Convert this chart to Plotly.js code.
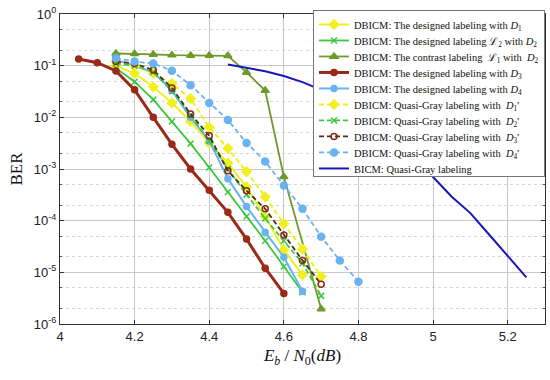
<!DOCTYPE html>
<html>
<head>
<meta charset="utf-8">
<script src="https://cdn.plot.ly/plotly-3.0.1.min.js"></script>
<style>html,body{margin:0;padding:0;background:#fff;}#chart{width:550px;height:380px;}</style>
</head>
<body>
<div id="chart"></div>
<script>
// Eb/N0 (dB) grids
var snrD1 = [4.15,4.2,4.25,4.3,4.35,4.4,4.45,4.5,4.55,4.6,4.65];
var berD1 = [0.099,0.071,0.039,0.019,0.0083,0.0032,0.0013,0.00045,0.00012,0.000027,0.0000089];

var snrD2 = [4.15,4.2,4.25,4.3,4.35,4.4,4.45,4.5,4.55,4.6,4.65];
var berD2 = [0.089,0.049,0.022,0.0083,0.0031,0.00107,0.00036,0.00012,0.000041,0.000013,0.0000041];

var snrC = [4.15,4.2,4.25,4.3,4.35,4.4,4.45,4.5,4.55,4.6,4.7];
var berC = [0.172,0.170,0.165,0.160,0.157,0.157,0.155,0.074,0.033,0.00071,0.00000195];

var snrD3 = [4.05,4.1,4.15,4.2,4.25,4.3,4.35,4.4,4.45,4.5,4.55,4.6];
var berD3 = [0.135,0.114,0.079,0.034,0.01,0.003,0.001,0.00039,0.000145,0.000044,0.000012,0.0000039];

var snrD4 = [4.15,4.2,4.25,4.3,4.35,4.4,4.45,4.5,4.55,4.6,4.65];
var berD4 = [0.13,0.1,0.075,0.033,0.01,0.0035,0.00065,0.000187,0.00006,0.0000195,0.0000043];

var snrQ1 = [4.15,4.2,4.25,4.3,4.35,4.4,4.45,4.5,4.55,4.6,4.65,4.7];
var berQ1 = [0.12,0.1,0.071,0.045,0.023,0.0064,0.0025,0.00089,0.00029,0.000087,0.000028,0.0000083];

var snrQ2 = [4.15,4.2,4.25,4.3,4.35,4.4,4.45,4.5,4.55,4.6,4.65,4.7];
var berQ2 = [0.11,0.1,0.075,0.032,0.011,0.0035,0.001,0.00032,0.00011,0.000041,0.000015,0.0000035];

var snrQ3 = [4.15,4.2,4.25,4.3,4.35,4.4,4.45,4.5,4.55,4.6,4.65,4.7];
var berQ3 = [0.12,0.11,0.082,0.037,0.0116,0.0044,0.00092,0.00038,0.00017,0.000053,0.000017,0.0000059];

var snrQ4 = [4.15,4.2,4.25,4.3,4.35,4.4,4.45,4.5,4.55,4.6,4.65,4.7,4.75,4.8];
var berQ4 = [0.14,0.12,0.11,0.08,0.042,0.019,0.0089,0.0032,0.0014,0.00048,0.00017,0.000049,0.000017,0.0000066];

var snrB = [4.45,4.5,4.55,4.6,4.65,4.7,4.75,4.8,4.85,4.9,4.95,5.0,5.05,5.1,5.15,5.2,5.25];
var berB = [0.105,0.092,0.078,0.063,0.048,0.034,0.022,0.012,0.0065,0.0033,0.0015,0.0007,0.00029,0.00014,0.000054,0.000021,0.000008];

var names = [
  'DBICM: The designed labeling with <i>D</i><sub>1</sub>',
  'DBICM: The designed labeling ℒ<sub>2</sub> with <i>D</i><sub>2</sub>',
  'DBICM: The contrast labeling  ℒ<sub>1</sub> with  <i>D</i><sub>2</sub>',
  'DBICM: The designed labeling with <i>D</i><sub>3</sub>',
  'DBICM: The designed labeling with <i>D</i><sub>4</sub>',
  'DBICM: Quasi-Gray labeling with  <i>D</i><sub>1</sub>\'',
  'DBICM: Quasi-Gray labeling with  <i>D</i><sub>2</sub>\'',
  'DBICM: Quasi-Gray labeling with  <i>D</i><sub>3</sub>\'',
  'DBICM: Quasi-Gray labeling with  <i>D</i><sub>4</sub>\'',
  'BICM: Quasi-Gray labeling'
];

var xTickVals = [4,4.2,4.4,4.6,4.8,5,5.2];
var xTickText = ['4','4.2','4.4','4.6','4.8','5','5.2'];
var yTickVals = [1,0.1,0.01,0.001,0.0001,0.00001,0.000001];
var yTickText = ['10<sup>0</sup>','10<sup>-1</sup>','10<sup>-2</sup>','10<sup>-3</sup>','10<sup>-4</sup>','10<sup>-5</sup>','10<sup>-6</sup>'];

function tr(x,y,name,color,width,dash,sym,msize,mcolor,mline){
  var t = {x:x,y:y,name:name,type:'scatter',mode: sym? 'lines+markers':'lines',
    line:{color:color,width:width,dash:dash}};
  if(sym){ t.marker = {symbol:sym,size:msize,color:mcolor,line:{color:mline||mcolor,width:1.5}}; }
  return t;
}

var yellow='#f0f020', green='#3cc83c', olive='#6f9a2a', red='#9a2a18', cyan='#6ab2f0', blue='#1818b8';

var data = [
  tr(snrD1,berD1,names[0],yellow,2,'solid','diamond',7,yellow),
  tr(snrD2,berD2,names[1],green,1.8,'solid','x-thin',6,green,green),
  tr(snrC,berC,names[2],olive,1.8,'solid','triangle-up',7,olive),
  tr(snrD3,berD3,names[3],red,3,'solid','circle',6,red),
  tr(snrD4,berD4,names[4],cyan,2,'solid','circle',6,cyan),
  tr(snrQ1,berQ1,names[5],yellow,2,'5px,3px','diamond',7,yellow),
  tr(snrQ2,berQ2,names[6],green,1.8,'5px,3px','x-thin',6,green,green),
  tr(snrQ3,berQ3,names[7],'#4a3020',1.8,'5px,3px','circle-open',6,'#8a2a10','#8a2a10'),
  tr(snrQ4,berQ4,names[8],cyan,1.8,'5px,3px','circle',7,cyan),
  tr(snrB,berB,names[9],blue,2,'solid',null)
];

var layout = {
  width:550, height:380,
  margin:{l:60,r:5,t:14,b:56},
  paper_bgcolor:'#fff', plot_bgcolor:'#fff',
  font:{family:'Liberation Sans, Arial, sans-serif', size:13, color:'#222'},
  showlegend:true,
  legend:{x:1,xanchor:'right',y:1.013,yanchor:'top',bgcolor:'#fff',bordercolor:'#777',borderwidth:1,
    itemwidth:30,
    font:{family:'Liberation Serif, Times New Roman, serif',size:10.5,color:'#111'},tracegroupgap:0},
  xaxis:{range:[4,5.3],tickvals:xTickVals,ticktext:xTickText,showgrid:true,gridcolor:'#c8c8c8',gridwidth:1,
    ticks:'inside',ticklen:4,tickcolor:'#333',showline:true,linecolor:'#333',linewidth:1,mirror:'ticks',zeroline:false,
    title:{text:'<i>E<sub>b</sub></i> / <i>N</i><sub>0</sub>(<i>dB</i>)',font:{family:'Liberation Serif, Times New Roman, serif',size:17,color:'#111'},standoff:6}},
  yaxis:{type:'log',range:[-6,0],tickvals:yTickVals,ticktext:yTickText,showgrid:true,gridcolor:'#c8c8c8',gridwidth:1,
    ticks:'inside',ticklen:4,tickcolor:'#333',showline:true,linecolor:'#333',linewidth:1,mirror:'ticks',zeroline:false,
    minor:{showgrid:true,gridcolor:'#d8d8d8',griddash:'dot',gridwidth:1,ticks:'inside',ticklen:2,tickcolor:'#555'},
    title:{text:'BER',font:{family:'Liberation Serif, Times New Roman, serif',size:17,color:'#111'},standoff:6}}
};

Plotly.newPlot('chart',data,layout,{displayModeBar:false,staticPlot:true}).then(function(gd){
  // tighten legend row spacing to match the reference (about 16px per entry)
  var items = gd.querySelectorAll('.legend .traces');
  if(!items.length) return;
  var m = /translate\(\s*([-\d.]+)[ ,]+([-\d.]+)/.exec(items[0].getAttribute('transform')||'');
  if(!m) return;
  var x0 = parseFloat(m[1]), y0 = parseFloat(m[2]), step = 16;
  var top = y0 - 1;
  for(var i=0;i<items.length;i++){
    items[i].setAttribute('transform','translate('+x0+','+(top+i*step)+')');
  }
  var bg = gd.querySelector('.legend rect.bg');
  if(bg){ bg.setAttribute('height', String(top + (items.length-1)*step + 8)); }
});
</script>
</body>
</html>
